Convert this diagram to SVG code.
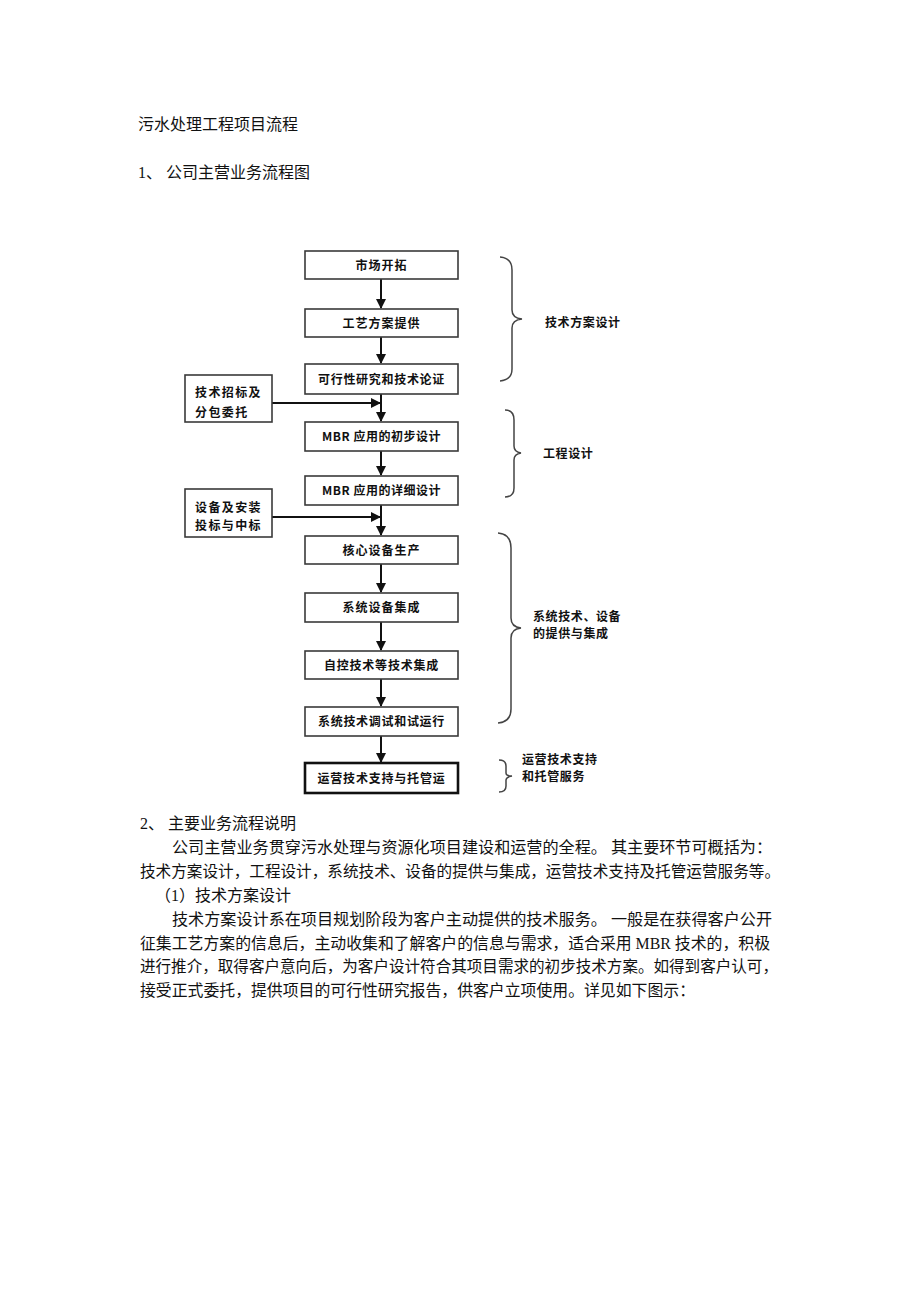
<svg xmlns="http://www.w3.org/2000/svg" width="920" height="1302" viewBox="0 0 920 1302">
<style>
.doc{font-family:"Liberation Serif","Noto Sans CJK SC",serif;font-size:16px;fill:#111}
.lbl{font-family:"Noto Sans CJK SC",sans-serif;font-size:12px;font-weight:bold;fill:#111}
.box{fill:#fff;stroke:#3a3a3a;stroke-width:1.6}
.box2{fill:#fff;stroke:#111;stroke-width:2.6}
.line{stroke:#111;stroke-width:2;fill:none}
.brace{stroke:#444;stroke-width:1.5;fill:none}
</style>
<defs>
<marker id="ah" markerWidth="10" markerHeight="10" refX="9" refY="5" orient="auto" markerUnits="userSpaceOnUse">
<path d="M0,0 L10,5 L0,10 Z" fill="#111"/>
</marker>
</defs>
<rect width="920" height="1302" fill="#fff"/>
<g id="header">
<text class="doc" x="138" y="130">污水处理工程项目流程</text>
<text class="doc" x="138" y="178">1、 公司主营业务流程图</text>
</g>
<g id="connectors">
<line class="line" x1="381" y1="279" x2="381" y2="308" marker-end="url(#ah)"/>
<line class="line" x1="381" y1="337" x2="381" y2="363" marker-end="url(#ah)"/>
<line class="line" x1="381" y1="394" x2="381" y2="421" marker-end="url(#ah)"/>
<line class="line" x1="272" y1="403" x2="380" y2="403" marker-end="url(#ah)"/>
<line class="line" x1="381" y1="451" x2="381" y2="475" marker-end="url(#ah)"/>
<line class="line" x1="381" y1="505" x2="381" y2="535" marker-end="url(#ah)"/>
<line class="line" x1="272" y1="517" x2="380" y2="517" marker-end="url(#ah)"/>
<line class="line" x1="381" y1="564" x2="381" y2="592" marker-end="url(#ah)"/>
<line class="line" x1="381" y1="622" x2="381" y2="650" marker-end="url(#ah)"/>
<line class="line" x1="381" y1="679" x2="381" y2="706" marker-end="url(#ah)"/>
<line class="line" x1="381" y1="736" x2="381" y2="762" marker-end="url(#ah)"/>
</g>
<g id="n1"><rect class="box" x="305" y="251" width="153" height="28"/><text class="lbl" x="381.5" y="269.5" text-anchor="middle" letter-spacing="1">市场开拓</text></g>
<g id="n2"><rect class="box" x="305" y="309" width="153" height="28"/><text class="lbl" x="381.5" y="327.5" text-anchor="middle" letter-spacing="1">工艺方案提供</text></g>
<g id="n3"><rect class="box" x="305" y="364" width="153" height="30"/><text class="lbl" x="381.5" y="383.5" text-anchor="middle" letter-spacing="0.7">可行性研究和技术论证</text></g>
<g id="s1"><rect class="box" x="185" y="375" width="87" height="47"/><text class="lbl" x="195" y="396.5" letter-spacing="1.4">技术招标及</text><text class="lbl" x="195" y="416.5" letter-spacing="1.4">分包委托</text></g>
<g id="n4"><rect class="box" x="305" y="422" width="153" height="29"/><text class="lbl" x="381.5" y="441" text-anchor="middle" letter-spacing="0.5">MBR 应用的初步设计</text></g>
<g id="n5"><rect class="box" x="305" y="476" width="153" height="29"/><text class="lbl" x="381.5" y="495" text-anchor="middle" letter-spacing="0.5">MBR 应用的详细设计</text></g>
<g id="s2"><rect class="box" x="185" y="489" width="87" height="48"/><text class="lbl" x="195" y="511.5" letter-spacing="1.4">设备及安装</text><text class="lbl" x="195" y="529.5" letter-spacing="1.4">投标与中标</text></g>
<g id="n6"><rect class="box" x="305" y="536" width="153" height="28"/><text class="lbl" x="381.5" y="554.5" text-anchor="middle" letter-spacing="1">核心设备生产</text></g>
<g id="n7"><rect class="box" x="305" y="593" width="153" height="29"/><text class="lbl" x="381.5" y="612" text-anchor="middle" letter-spacing="1">系统设备集成</text></g>
<g id="n8"><rect class="box" x="305" y="651" width="153" height="28"/><text class="lbl" x="381.5" y="669.5" text-anchor="middle" letter-spacing="0.8">自控技术等技术集成</text></g>
<g id="n9"><rect class="box" x="305" y="707" width="153" height="29"/><text class="lbl" x="381.5" y="726" text-anchor="middle" letter-spacing="0.7">系统技术调试和试运行</text></g>
<g id="n10"><rect class="box2" x="305" y="763" width="153" height="30"/><text class="lbl" x="381.5" y="782.5" text-anchor="middle" letter-spacing="0.8">运营技术支持与托管运</text></g>
<g id="b1"><path class="brace" d="M500,257 Q512,258 512,270 L512,310 Q512,318 522,319 Q512,320 512,328 L512,369 Q512,380 500,381"/><text class="lbl" x="545" y="327" letter-spacing="0.6">技术方案设计</text></g>
<g id="b2"><path class="brace" d="M505,410 Q514,410 514,420 L514,446 Q514,452 521,453 Q514,454 514,460 L514,488 Q514,497 505,497"/><text class="lbl" x="543" y="458" letter-spacing="0.6">工程设计</text></g>
<g id="b3"><path class="brace" d="M498,533 Q511,534 511,548 L511,618 Q511,627 521,628 Q511,629 511,638 L511,709 Q511,722 498,723"/><text class="lbl" x="533" y="621" letter-spacing="0.6">系统技术、设备</text><text class="lbl" x="533" y="638" letter-spacing="0.6">的提供与集成</text></g>
<g id="b4"><path class="brace" d="M499,760 Q506,760 506,766 L506,773 Q506,776 512,776 Q506,777 506,780 L506,786 Q506,792 499,792"/><text class="lbl" x="522" y="764" letter-spacing="0.6">运营技术支持</text><text class="lbl" x="522" y="781" letter-spacing="0.6">和托管服务</text></g>
<g id="body">
<text class="doc" x="140" y="829">2、 主要业务流程说明</text>
<text class="doc" x="172" y="853" textLength="600" lengthAdjust="spacingAndGlyphs">公司主营业务贯穿污水处理与资源化项目建设和运营的全程。 其主要环节可概括为：</text>
<text class="doc" x="140" y="877" textLength="640" lengthAdjust="spacingAndGlyphs">技术方案设计，工程设计，系统技术、设备的提供与集成，运营技术支持及托管运营服务等。</text>
<text class="doc" x="155" y="901">（1）技术方案设计</text>
<text class="doc" x="172" y="925" textLength="600" lengthAdjust="spacingAndGlyphs">技术方案设计系在项目规划阶段为客户主动提供的技术服务。 一般是在获得客户公开</text>
<text class="doc" x="140" y="949" textLength="630" lengthAdjust="spacingAndGlyphs">征集工艺方案的信息后，主动收集和了解客户的信息与需求，适合采用 MBR 技术的，积极</text>
<text class="doc" x="140" y="972" textLength="638" lengthAdjust="spacingAndGlyphs">进行推介，取得客户意向后，为客户设计符合其项目需求的初步技术方案。如得到客户认可，</text>
<text class="doc" x="140" y="996" textLength="555" lengthAdjust="spacingAndGlyphs">接受正式委托，提供项目的可行性研究报告，供客户立项使用。详见如下图示：</text>
</g>
</svg>
